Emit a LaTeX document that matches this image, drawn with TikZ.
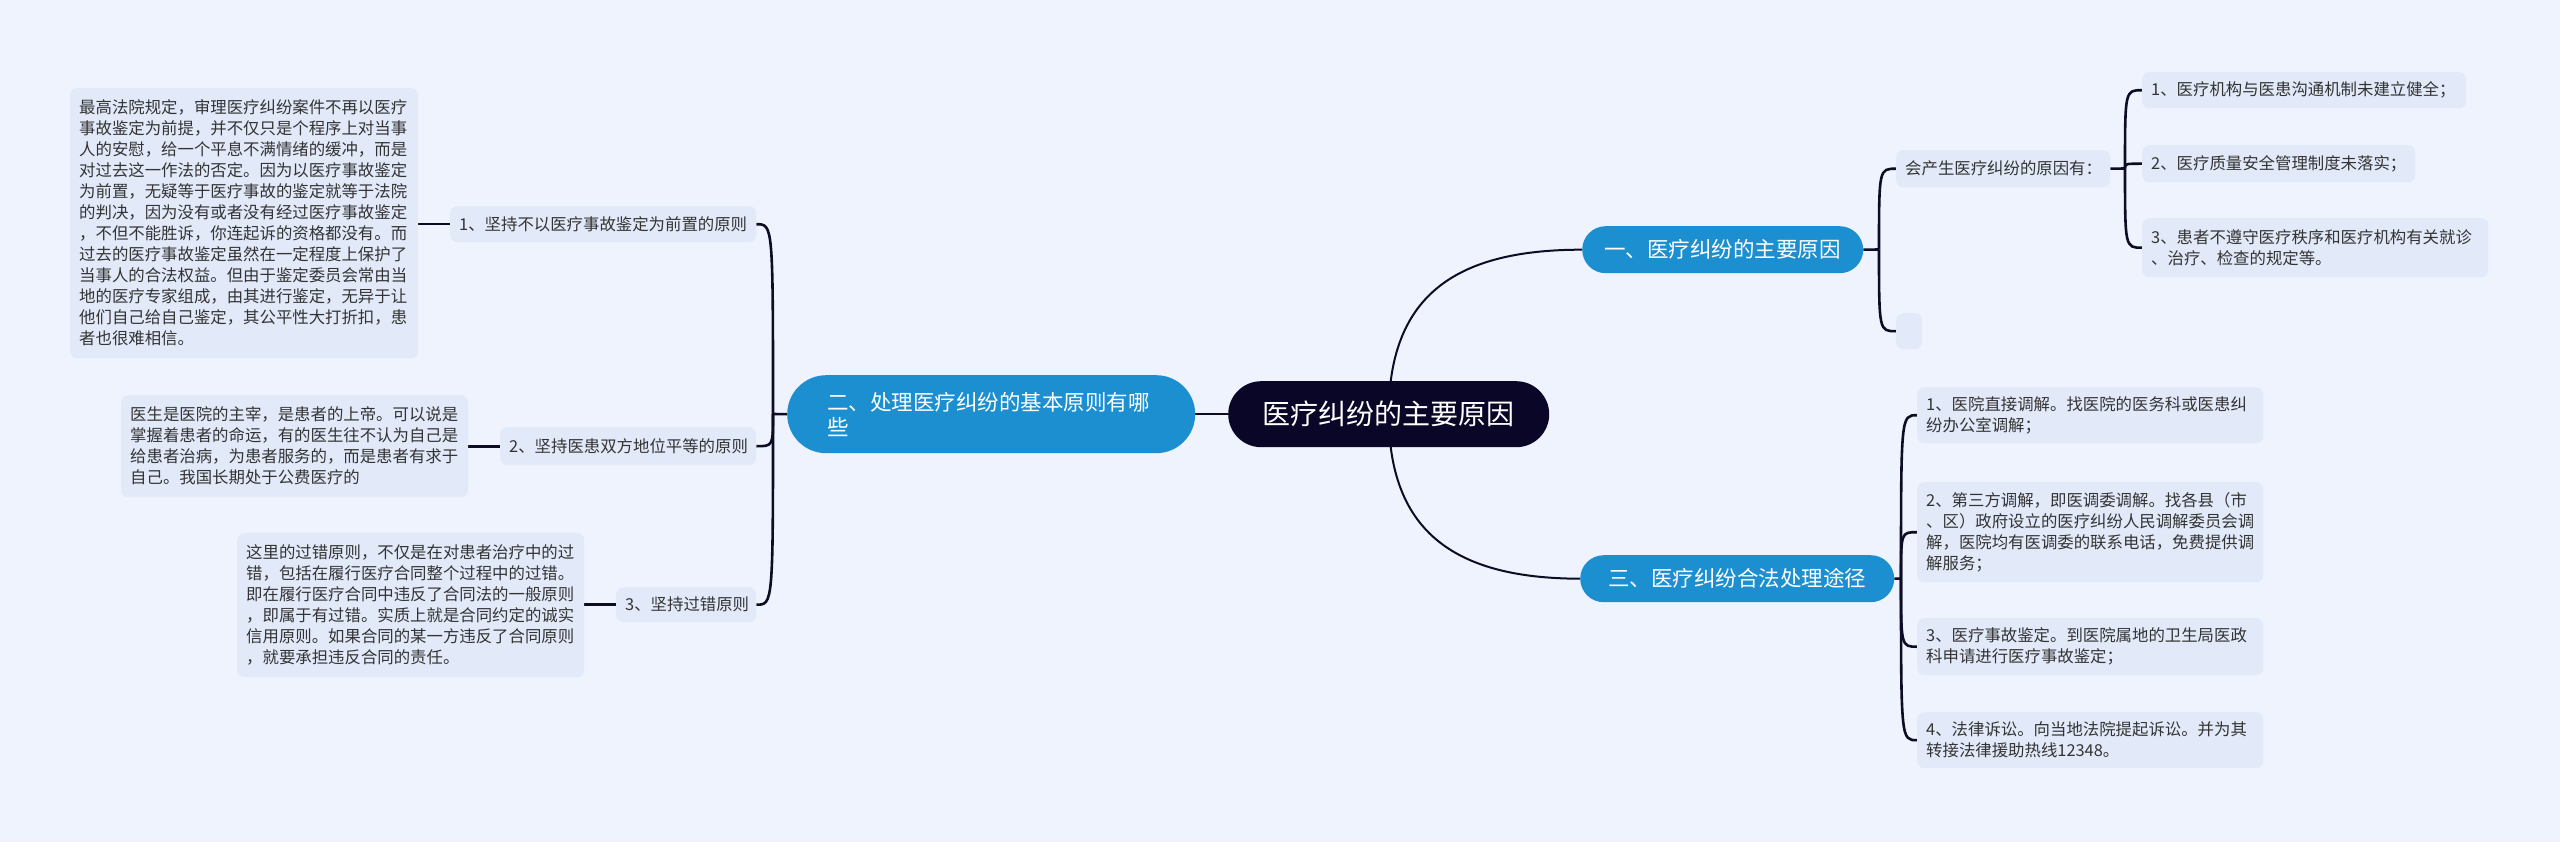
\documentclass[tikz,border=0pt]{standalone}
\usepackage{fontspec}
\newfontfamily\cjk{Noto Sans CJK SC}
\usetikzlibrary{positioning}
\definecolor{bgcol}{HTML}{EEF3FD}
\definecolor{leaffill}{HTML}{E2EAFA}
\definecolor{leaftext}{HTML}{333333}
\definecolor{branchfill}{HTML}{1C8FD1}
\definecolor{rootfill}{HTML}{0A0628}
\definecolor{linecol}{HTML}{0E0C24}
\newcommand\leaffont{\cjk\fontsize{16.4pt}{21pt}\selectfont}
\newcommand\branchfont{\cjk\fontsize{21.5pt}{25pt}\selectfont}
\newcommand\rootfont{\cjk\fontsize{28pt}{32pt}\selectfont}
\pgfdeclarelayer{bglayer}
\pgfdeclarelayer{connlayer}
\pgfsetlayers{bglayer,connlayer,main}
\tikzset{
  leaf/.style={fill=leaffill, rounded corners=7pt, text=leaftext, font=\leaffont,
    inner xsep=9pt, inner ysep=0pt, align=left, anchor=north west},
  branch/.style={fill=branchfill, text=white, font=\branchfont, inner sep=0pt,
    anchor=north west, align=center},
  rootbox/.style={fill=rootfill, text=white, font=\rootfont, inner sep=0pt,
    anchor=north west, align=center, rounded corners=33pt},
  conn/.style={draw=linecol, line width=2.6pt},
  rootconn/.style={draw=linecol, line width=2pt},
}
\begin{document}
\begin{tikzpicture}[x=1pt,y=-1pt]
\begin{pgfonlayer}{bglayer}
\fill[bgcol] (0,0) rectangle (2560,842);
\end{pgfonlayer}
\useasboundingbox (0,0) rectangle (2560,842);

% root and branches
\node[rootbox, minimum width=321pt, minimum height=66pt] (root) at (1228,381) {医疗纠纷的主要原因};
\node[branch, minimum width=408pt, minimum height=78pt, rounded corners=39pt,
  text width=328pt, inner xsep=40pt, align=left] (b2) at (787,375) {二、处理医疗纠纷的基本原则有哪\\些};
\node[branch, minimum width=281pt, minimum height=47pt, rounded corners=23.5pt] (b1) at (1582,226) {一、医疗纠纷的主要原因};
\node[branch, minimum width=314pt, minimum height=47pt, rounded corners=23.5pt] (b3) at (1580,555) {三、医疗纠纷合法处理途径};

% left side
\node[leaf, minimum width=306pt, minimum height=36pt, text width=288pt] (L1) at (450,206) {1、坚持不以医疗事故鉴定为前置的原则};
\node[leaf, minimum width=348pt, minimum height=270pt, text width=330pt] (L1t) at (70,88) {最高法院规定，审理医疗纠纷案件不再以医疗\\事故鉴定为前提，并不仅只是个程序上对当事\\人的安慰，给一个平息不满情绪的缓冲，而是\\对过去这一作法的否定。因为以医疗事故鉴定\\为前置，无疑等于医疗事故的鉴定就等于法院\\的判决，因为没有或者没有经过医疗事故鉴定\\，不但不能胜诉，你连起诉的资格都没有。而\\过去的医疗事故鉴定虽然在一定程度上保护了\\当事人的合法权益。但由于鉴定委员会常由当\\地的医疗专家组成，由其进行鉴定，无异于让\\他们自己给自己鉴定，其公平性大打折扣，患\\者也很难相信。};
\node[leaf, minimum width=256pt, minimum height=38pt, text width=238pt] (L2) at (500,427) {2、坚持医患双方地位平等的原则};
\node[leaf, minimum width=347pt, minimum height=102pt, text width=329pt] (L2t) at (121,395) {医生是医院的主宰，是患者的上帝。可以说是\\掌握着患者的命运，有的医生往不认为自己是\\给患者治病，为患者服务的，而是患者有求于\\自己。我国长期处于公费医疗的};
\node[leaf, minimum width=140pt, minimum height=35pt, text width=122pt] (L3) at (616,587) {3、坚持过错原则};
\node[leaf, minimum width=347pt, minimum height=144pt, text width=329pt] (L3t) at (237,533) {这里的过错原则，不仅是在对患者治疗中的过\\错，包括在履行医疗合同整个过程中的过错。\\即在履行医疗合同中违反了合同法的一般原则\\，即属于有过错。实质上就是合同约定的诚实\\信用原则。如果合同的某一方违反了合同原则\\，就要承担违反合同的责任。};

% right top
\node[leaf, minimum width=214pt, minimum height=37pt, text width=196pt] (R0) at (1896,150) {会产生医疗纠纷的原因有：};
\node[leaf, minimum width=26pt, minimum height=36pt, inner xsep=0pt, text width=26pt] (R0e) at (1896,313) {};
\node[leaf, minimum width=324pt, minimum height=36pt, text width=306pt] (R1) at (2142,72) {1、医疗机构与医患沟通机制未建立健全；};
\node[leaf, minimum width=273pt, minimum height=37pt, text width=255pt] (R2) at (2142,145) {2、医疗质量安全管理制度未落实；};
\node[leaf, minimum width=346pt, minimum height=59pt, text width=328pt] (R3) at (2142,218) {3、患者不遵守医疗秩序和医疗机构有关就诊\\、治疗、检查的规定等。};

% right bottom
\node[leaf, minimum width=346pt, minimum height=56pt, text width=328pt] (S1) at (1917,387) {1、医院直接调解。找医院的医务科或医患纠\\纷办公室调解；};
\node[leaf, minimum width=346pt, minimum height=100pt, text width=328pt] (S2) at (1917,482) {2、第三方调解，即医调委调解。找各县（市\\、区）政府设立的医疗纠纷人民调解委员会调\\解，医院均有医调委的联系电话，免费提供调\\解服务；};
\node[leaf, minimum width=346pt, minimum height=57pt, text width=328pt] (S3) at (1917,618) {3、医疗事故鉴定。到医院属地的卫生局医政\\科申请进行医疗事故鉴定；};
\node[leaf, minimum width=346pt, minimum height=56pt, text width=328pt] (S4) at (1917,712) {4、法律诉讼。向当地法院提起诉讼。并为其\\转接法律援助热线12348。};

% junctions
\coordinate (jL) at (773,414);
\coordinate (jR1) at (1879,249.5);
\coordinate (jR0) at (2125,168.5);
\coordinate (jR3) at (1901,578.5);

\begin{pgfonlayer}{connlayer}
% root connectors
\draw[rootconn] (root.west) -- (b2.east);
\draw[rootconn] (root.center) .. controls (1389,300) and (1450,249.5) .. (b1.west);
\draw[rootconn] (root.center) .. controls (1389,528) and (1450,578.5) .. (b3.west);
% left bracket
\draw[conn] (b2.west) -- (jL);
\draw[conn] (jL) .. controls (jL |- L1.east) .. (L1.east);
\draw[conn] (jL) .. controls (jL |- L2.east) .. (L2.east);
\draw[conn] (jL) .. controls (jL |- L3.east) .. (L3.east);
\draw[conn] (L1.west) -- (L1t.east |- L1.west);
\draw[conn] (L2.west) -- (L2t.east |- L2.west);
\draw[conn] (L3.west) -- (L3t.east |- L3.west);
% right top bracket
\draw[conn] (b1.east) -- (jR1);
\draw[conn] (jR1) .. controls (jR1 |- R0.west) .. (R0.west);
\draw[conn] (jR1) .. controls (jR1 |- R0e.west) .. (R0e.west);
\draw[conn] (R0.east) -- (jR0);
\draw[conn] (jR0) .. controls (jR0 |- R1.west) .. (R1.west);
\draw[conn] (jR0) .. controls (jR0 |- R2.west) .. (R2.west);
\draw[conn] (jR0) .. controls (jR0 |- R3.west) .. (R3.west);
% right bottom bracket
\draw[conn] (b3.east) -- (jR3);
\draw[conn] (jR3) .. controls (jR3 |- S1.west) .. (S1.west);
\draw[conn] (jR3) .. controls (jR3 |- S2.west) .. (S2.west);
\draw[conn] (jR3) .. controls (jR3 |- S3.west) .. (S3.west);
\draw[conn] (jR3) .. controls (jR3 |- S4.west) .. (S4.west);
\end{pgfonlayer}
\end{tikzpicture}
\end{document}
